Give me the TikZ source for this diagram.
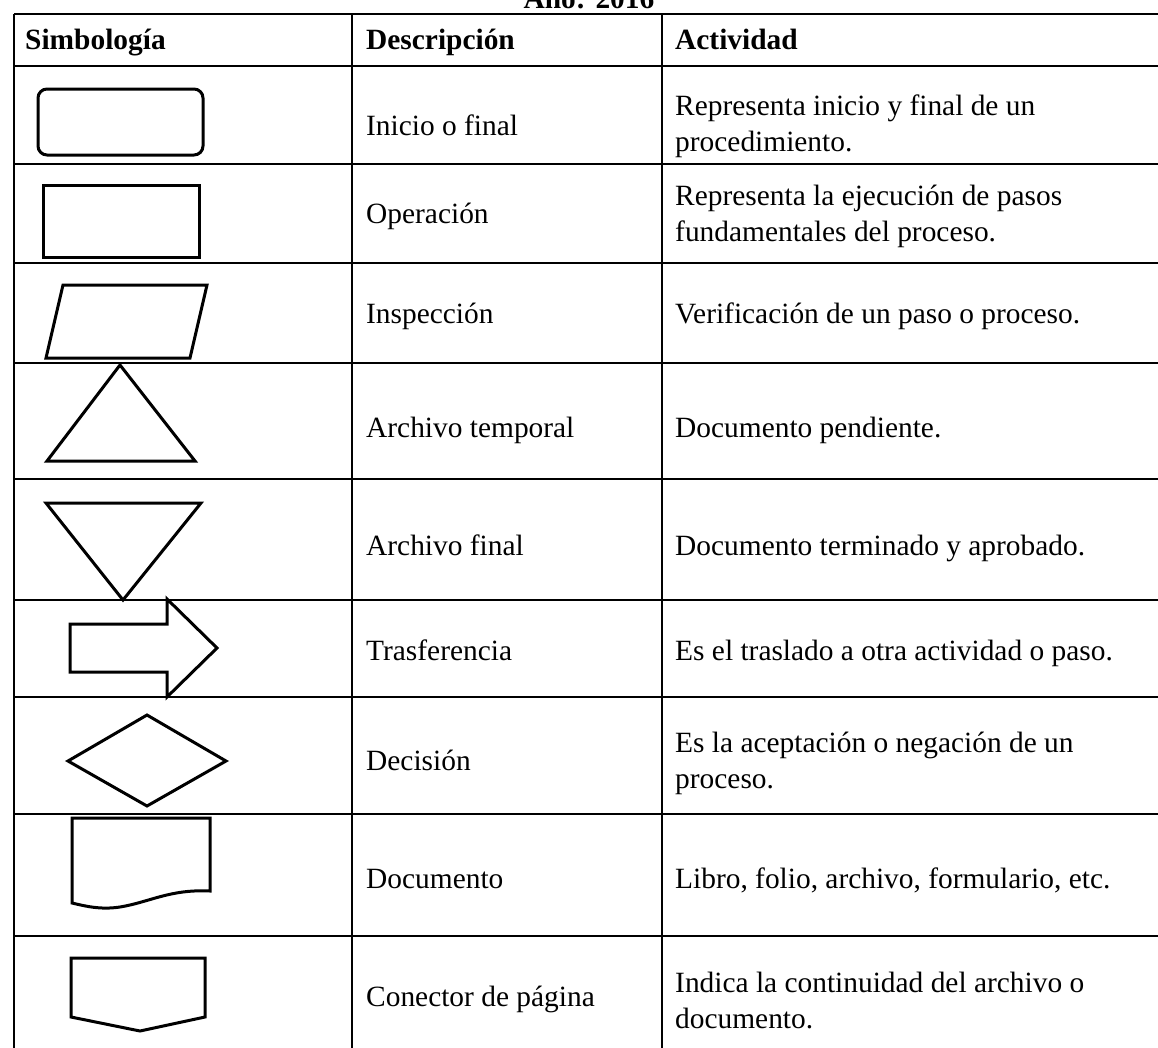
\documentclass[tikz,border=0pt]{standalone}
\usepackage{fontspec}
\setmainfont{Liberation Serif}
\begin{document}
\begin{tikzpicture}[x=1pt,y=-1pt,
  grid/.style={line width=2pt,black},
  sym/.style={line width=3pt,black,line join=miter},
  txt/.style={anchor=west,inner sep=0pt,align=left,font=\fontsize{29.4}{36}\selectfont},
  one/.style={anchor=base west,inner sep=0pt,font=\fontsize{29.4}{36}\selectfont},
  hdr/.style={anchor=base west,inner sep=0pt,font=\fontsize{29.4}{36}\selectfont\bfseries}]
\useasboundingbox (0,0) rectangle (1158,1047);
\clip (0,0) rectangle (1158,1047);
\fill[white] (0,0) rectangle (1158,1047);
% title (cut at top)
\node[anchor=base,inner sep=0pt,font=\fontsize{29.4}{36}\selectfont\bfseries] (title) at (589,8) {Año: 2016};
% table grid
\foreach \y in {14,66,164,263,363,479,600,697,814,936}
  \draw[grid] (14,\y) -- (1160,\y);
\draw[grid] (14,14) -- (14,1050);
\draw[grid] (352,14) -- (352,1050);
\draw[grid] (662,14) -- (662,1050);
% headers
\node[hdr] (h1) at (25,49) {Simbología};
\node[hdr] (h2) at (366,49) {Descripción};
\node[hdr] (h3) at (675,49) {Actividad};
% descriptions
\node[one] (d1) at (366,135) {Inicio o final};
\node[one] (d2) at (366,223) {Operación};
\node[one] (d3) at (366,323) {Inspección};
\node[one] (d4) at (366,437) {Archivo temporal};
\node[one] (d5) at (366,555) {Archivo final};
\node[one] (d6) at (366,660) {Trasferencia};
\node[one] (d7) at (366,770) {Decisión};
\node[one] (d8) at (366,888) {Documento};
\node[one] (d9) at (366,1006) {Conector de página};
% activities
\node[txt] (a1) at (675,126) {Representa inicio y final de un\\procedimiento.};
\node[txt] (a2) at (675,216) {Representa la ejecución de pasos\\fundamentales del proceso.};
\node[one] (a3) at (675,323) {Verificación de un paso o proceso.};
\node[one] (a4) at (675,437) {Documento pendiente.};
\node[one] (a5) at (675,555) {Documento terminado y aprobado.};
\node[one] (a6) at (675,660) {Es el traslado a otra actividad o paso.};
\node[txt] (a7) at (675,763) {Es la aceptación o negación de un\\proceso.};
\node[one] (a8) at (675,888) {Libro, folio, archivo, formulario, etc.};
\node[txt] (a9) at (675,1000) {Indica la continuidad del archivo o\\documento.};
% symbols
\draw[sym,rounded corners=9pt] (38,89) rectangle (203,155);
\draw[sym] (43,185) rectangle (199,257);
\draw[sym] (63,285) -- (207,285) -- (190,358) -- (46,358) -- cycle;
\draw[sym] (120,365) -- (195,461) -- (47,461) -- cycle;
\draw[sym] (46,503) -- (201,503) -- (123,600) -- cycle;
\draw[sym] (70,624) -- (167,624) -- (167,599) -- (217,648) -- (167,697) -- (167,672) -- (70,672) -- cycle;
\draw[sym] (68,761) -- (147,715) -- (226,761) -- (147,806) -- cycle;
\draw[sym] (72,903) -- (72,818) -- (210,818) -- (210,891)
  .. controls (170,889) and (150,902) .. (120,907)
  .. controls (100,910) and (85,906) .. (72,903) -- cycle;
\draw[sym] (71,958) -- (205,958) -- (205,1017) -- (140,1031) -- (71,1017) -- cycle;
\end{tikzpicture}
\end{document}
